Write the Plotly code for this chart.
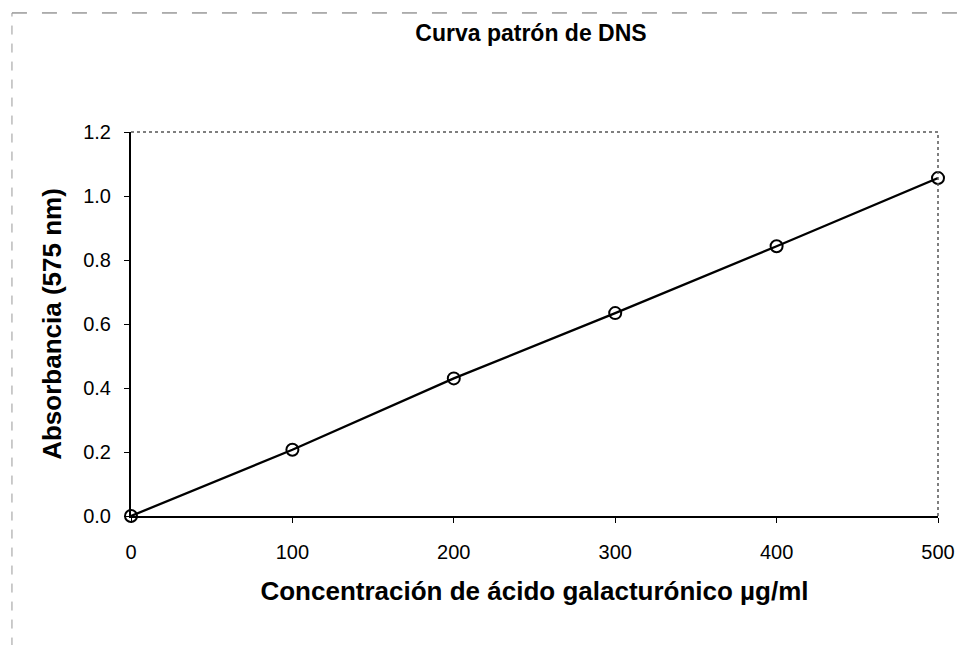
import plotly.graph_objects as go

# Standard curve data: galacturonic acid concentration vs absorbance at 575 nm
concentracion = [0, 100, 200, 300, 400, 500]
absorbancia = [0.0, 0.207, 0.43, 0.634, 0.843, 1.056]

x_ticks = [0, 100, 200, 300, 400, 500]
y_ticks = [0.0, 0.2, 0.4, 0.6, 0.8, 1.0, 1.2]
y_tick_labels = ["0.0", "0.2", "0.4", "0.6", "0.8", "1.0", "1.2"]

FONT = "Liberation Sans, Arial, sans-serif"

fig = go.Figure()

fig.add_trace(go.Scatter(
    x=concentracion,
    y=absorbancia,
    mode="lines+markers",
    line=dict(color="black", width=2.3),
    marker=dict(symbol="circle-open", size=12, color="black",
                line=dict(color="black", width=2)),
    showlegend=False,
    cliponaxis=False,
))

# plot-area frame (top and right edges are lighter)
fig.add_shape(type="line", xref="paper", yref="paper", x0=0, x1=1, y0=1, y1=1,
              line=dict(color="#555555", width=1.5, dash="dot"))
fig.add_shape(type="line", xref="paper", yref="paper", x0=1, x1=1, y0=0, y1=1,
              line=dict(color="#555555", width=1.5, dash="dot"))

# outer chart border (top and left)
fig.add_shape(type="line", xref="paper", yref="paper", x0=-0.1475, x1=1.04, y0=1.31, y1=1.31,
              line=dict(color="#666666", width=1, dash="longdash"))
fig.add_shape(type="line", xref="paper", yref="paper", x0=-0.1475, x1=-0.1475, y0=-0.34, y1=1.31,
              line=dict(color="#999999", width=1, dash="dash"))

fig.update_layout(
    width=967,
    height=645,
    margin=dict(l=131, r=29, t=132, b=129),
    paper_bgcolor="white",
    plot_bgcolor="white",
    font=dict(family=FONT, color="black"),
    title=dict(
        text="<b>Curva patrón de DNS</b>",
        x=531 / 967, xanchor="center",
        y=1 - 33 / 645, yanchor="middle",
        font=dict(size=23, family=FONT, color="black"),
    ),
    xaxis=dict(
        range=[0, 500],
        tickvals=x_ticks,
        ticktext=[str(v) for v in x_ticks],
        ticks="outside", ticklen=5, tickwidth=1, tickcolor="black",
        showline=True, linecolor="black", linewidth=2,
        showgrid=False, zeroline=False,
        tickfont=dict(size=20, family=FONT, color="black"),
        ticklabelstandoff=12,
        title=dict(text="<b>Concentración de ácido galacturónico µg/ml</b>",
                   font=dict(size=26, family=FONT, color="black"), standoff=20),
    ),
    yaxis=dict(
        range=[0, 1.2],
        tickvals=y_ticks,
        ticktext=y_tick_labels,
        ticks="outside", ticklen=5, tickwidth=1, tickcolor="black",
        showline=True, linecolor="black", linewidth=2,
        showgrid=False, zeroline=False,
        tickfont=dict(size=20, family=FONT, color="black"),
        ticklabelstandoff=9,
        title=dict(text="<b>Absorbancia (575 nm)</b>",
                   font=dict(size=26, family=FONT, color="black"), standoff=14),
    ),
)

fig.write_html("out.html")
